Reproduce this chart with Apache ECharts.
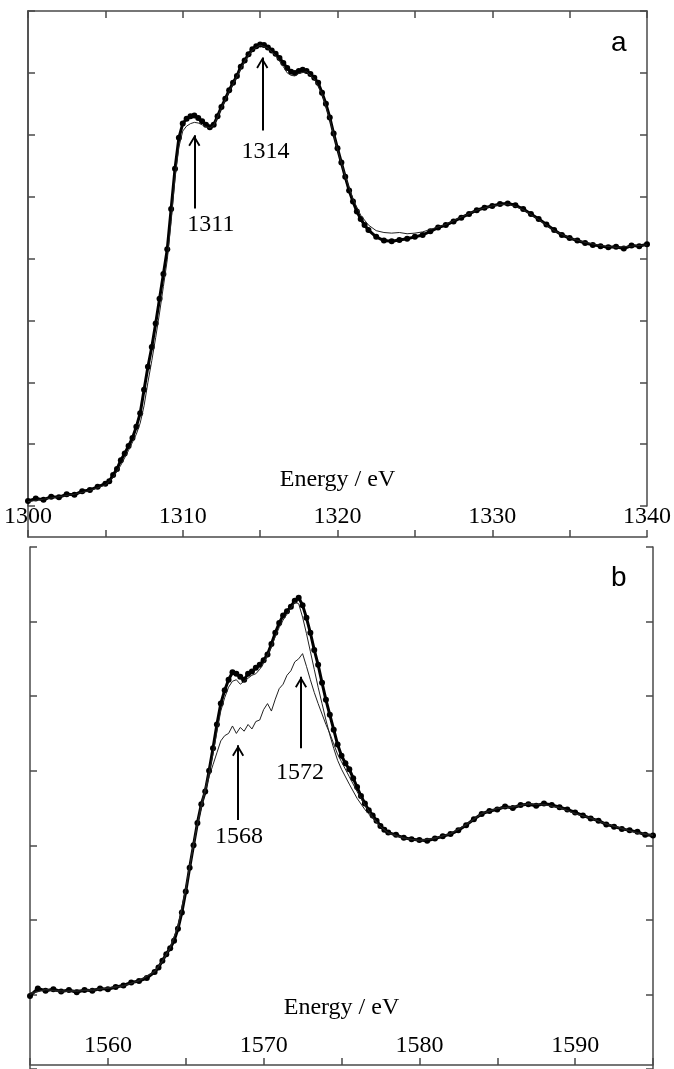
<!DOCTYPE html>
<html>
<head>
<meta charset="utf-8">
<script src="https://cdn.jsdelivr.net/npm/echarts@6/dist/echarts.min.js"></script>
<style>
html,body{margin:0;padding:0;background:#fff;}
#chart{width:674px;height:1069px;}
</style>
</head>
<body>
<div id="chart"></div>
<script>
// ---------- Panel a (Energy / eV, 1300–1340) ----------
const ticksLabelsA = [1300, 1310, 1320, 1330, 1340];
const dotsA = [[1300,0.08],[1300.5,0.12],[1301,0.10],[1301.5,0.15],[1302,0.14],[1302.5,0.19],[1303,0.18],[1303.5,0.24],[1304,0.26],[1304.5,0.31],[1305,0.36],[1305.25,0.40],[1305.5,0.50],[1305.75,0.60],[1306,0.74],[1306.25,0.85],[1306.5,0.97],[1306.75,1.10],[1307,1.28],[1307.25,1.50],[1307.5,1.88],[1307.75,2.25],[1308,2.57],[1308.25,2.95],[1308.5,3.35],[1308.75,3.75],[1309,4.15],[1309.25,4.80],[1309.5,5.45],[1309.75,5.95],[1310,6.18],[1310.25,6.26],[1310.5,6.30],[1310.75,6.31],[1311,6.27],[1311.25,6.22],[1311.5,6.16],[1311.75,6.12],[1312,6.16],[1312.25,6.30],[1312.5,6.45],[1312.75,6.58],[1313,6.72],[1313.25,6.84],[1313.5,6.95],[1313.75,7.10],[1314,7.20],[1314.25,7.30],[1314.5,7.38],[1314.75,7.43],[1315,7.46],[1315.25,7.45],[1315.5,7.41],[1315.75,7.36],[1316,7.31],[1316.25,7.24],[1316.5,7.16],[1316.75,7.08],[1317,7.02],[1317.25,7.00],[1317.5,7.03],[1317.75,7.05],[1318,7.03],[1318.25,6.98],[1318.5,6.92],[1318.75,6.84],[1319,6.68],[1319.25,6.50],[1319.5,6.28],[1319.75,6.02],[1320,5.78],[1320.25,5.55],[1320.5,5.32],[1320.75,5.10],[1321,4.92],[1321.25,4.76],[1321.5,4.64],[1321.75,4.54],[1322,4.46],[1322.5,4.35],[1323,4.29],[1323.5,4.28],[1324,4.30],[1324.5,4.32],[1325,4.35],[1325.5,4.38],[1326,4.44],[1326.5,4.50],[1327,4.54],[1327.5,4.60],[1328,4.66],[1328.5,4.72],[1329,4.78],[1329.5,4.82],[1330,4.85],[1330.5,4.88],[1331,4.89],[1331.5,4.86],[1332,4.80],[1332.5,4.72],[1333,4.64],[1333.5,4.55],[1334,4.46],[1334.5,4.38],[1335,4.33],[1335.5,4.29],[1336,4.25],[1336.5,4.22],[1337,4.20],[1337.5,4.18],[1338,4.19],[1338.5,4.16],[1339,4.21],[1339.5,4.20],[1340,4.23]];
const lineA = [[1300,0.07],[1301,0.11],[1302,0.15],[1303,0.19],[1304,0.25],[1305,0.34],[1305.5,0.46],[1306,0.66],[1306.5,0.90],[1307,1.16],[1307.25,1.34],[1307.5,1.62],[1307.75,2.00],[1308,2.35],[1308.25,2.72],[1308.5,3.12],[1308.75,3.55],[1309,3.98],[1309.25,4.60],[1309.5,5.30],[1309.75,5.80],[1310,6.06],[1310.25,6.14],[1310.5,6.18],[1310.75,6.20],[1311,6.19],[1311.25,6.16],[1311.5,6.13],[1311.75,6.11],[1312,6.15],[1312.5,6.43],[1313,6.70],[1313.5,6.94],[1314,7.19],[1314.5,7.37],[1315,7.45],[1315.5,7.40],[1316,7.28],[1316.5,7.10],[1316.75,7.00],[1317,6.96],[1317.25,6.95],[1317.5,6.99],[1318,7.02],[1318.5,6.90],[1319,6.66],[1319.5,6.25],[1320,5.76],[1320.5,5.33],[1321,4.96],[1321.5,4.70],[1322,4.54],[1322.5,4.45],[1323,4.42],[1323.5,4.41],[1324,4.42],[1324.5,4.40],[1325,4.41],[1325.5,4.43],[1326,4.47],[1326.5,4.51],[1327,4.55],[1328,4.67],[1329,4.78],[1330,4.85],[1330.5,4.87],[1331,4.88],[1331.5,4.84],[1332,4.79],[1333,4.63],[1334,4.45],[1335,4.33],[1336,4.26],[1337,4.21],[1338,4.18],[1339,4.20],[1340,4.22]];
// arrows: [energy, tail value, head value]
const arrowsA = [[1310.75, 4.81, 5.99], [1315.14, 6.07, 7.25]];
// arrow texts: [energy, value, text]
const notesA = [[1311.82, 4.54, '1311'], [1315.34, 5.72, '1314']];

// ---------- Panel b (Energy / eV, 1555–1595) ----------
const ticksLabelsB = [1560, 1570, 1580, 1590];
const dotsB = [[1555,0.98],[1555.5,1.08],[1556,1.05],[1556.5,1.07],[1557,1.04],[1557.5,1.06],[1558,1.03],[1558.5,1.06],[1559,1.05],[1559.5,1.08],[1560,1.07],[1560.5,1.10],[1561,1.12],[1561.5,1.16],[1562,1.18],[1562.5,1.22],[1563,1.30],[1563.25,1.36],[1563.5,1.45],[1563.75,1.54],[1564,1.62],[1564.25,1.72],[1564.5,1.88],[1564.75,2.10],[1565,2.38],[1565.25,2.70],[1565.5,3.00],[1565.75,3.30],[1566,3.55],[1566.25,3.72],[1566.5,4.00],[1566.75,4.30],[1567,4.62],[1567.25,4.90],[1567.5,5.08],[1567.75,5.22],[1568,5.32],[1568.25,5.30],[1568.5,5.26],[1568.75,5.22],[1569,5.30],[1569.25,5.33],[1569.5,5.38],[1569.75,5.42],[1570,5.48],[1570.25,5.56],[1570.5,5.70],[1570.75,5.85],[1571,5.98],[1571.25,6.08],[1571.5,6.14],[1571.75,6.20],[1572,6.28],[1572.25,6.32],[1572.5,6.22],[1572.75,6.05],[1573,5.85],[1573.25,5.62],[1573.5,5.42],[1573.75,5.18],[1574,4.95],[1574.25,4.75],[1574.5,4.55],[1574.75,4.35],[1575,4.20],[1575.25,4.10],[1575.5,4.02],[1575.75,3.90],[1576,3.78],[1576.25,3.66],[1576.5,3.56],[1576.75,3.47],[1577,3.40],[1577.25,3.33],[1577.5,3.26],[1577.75,3.21],[1578,3.17],[1578.5,3.14],[1579,3.10],[1579.5,3.08],[1580,3.07],[1580.5,3.06],[1581,3.09],[1581.5,3.12],[1582,3.15],[1582.5,3.20],[1583,3.27],[1583.5,3.35],[1584,3.42],[1584.5,3.46],[1585,3.48],[1585.5,3.52],[1586,3.50],[1586.5,3.54],[1587,3.55],[1587.5,3.53],[1588,3.56],[1588.5,3.54],[1589,3.51],[1589.5,3.48],[1590,3.44],[1590.5,3.40],[1591,3.36],[1591.5,3.33],[1592,3.28],[1592.5,3.25],[1593,3.22],[1593.5,3.20],[1594,3.18],[1594.5,3.14],[1595,3.13]];
const lineB1 = [[1555,1.02],[1556,1.06],[1557,1.05],[1558,1.04],[1559,1.07],[1560,1.08],[1561,1.12],[1562,1.18],[1563,1.30],[1563.5,1.44],[1564,1.62],[1564.5,1.90],[1565,2.40],[1565.5,3.02],[1566,3.55],[1566.5,3.98],[1566.75,4.22],[1567,4.52],[1567.25,4.80],[1567.5,4.98],[1567.75,5.12],[1568,5.20],[1568.25,5.22],[1568.5,5.16],[1568.75,5.20],[1569,5.24],[1569.25,5.28],[1569.5,5.30],[1569.75,5.36],[1570,5.44],[1570.25,5.55],[1570.5,5.66],[1570.75,5.80],[1571,5.92],[1571.25,6.02],[1571.5,6.10],[1571.75,6.18],[1572,6.26],[1572.25,6.24],[1572.5,6.06],[1572.75,5.84],[1573,5.60],[1573.25,5.36],[1573.5,5.12],[1573.75,4.90],[1574,4.68],[1574.25,4.48],[1574.5,4.30],[1574.75,4.14],[1575,4.02],[1575.5,3.82],[1576,3.63],[1576.5,3.48],[1577,3.36],[1577.5,3.25],[1578,3.17],[1579,3.10],[1580,3.06],[1581,3.09],[1582,3.16],[1583,3.28],[1584,3.43],[1585,3.49],[1586,3.52],[1587,3.55],[1588,3.55],[1589,3.50],[1590,3.43],[1591,3.36],[1592,3.29],[1593,3.22],[1594,3.17],[1595,3.14]];
const lineB2 = [[1555,1.00],[1556,1.07],[1557,1.03],[1558,1.06],[1559,1.05],[1560,1.09],[1561,1.11],[1562,1.19],[1563,1.31],[1563.5,1.45],[1564,1.63],[1564.5,1.92],[1565,2.42],[1565.5,3.00],[1565.75,3.28],[1566,3.50],[1566.25,3.72],[1566.5,3.92],[1566.75,4.08],[1567,4.24],[1567.25,4.40],[1567.5,4.47],[1567.75,4.50],[1568,4.60],[1568.25,4.50],[1568.5,4.58],[1568.75,4.53],[1569,4.62],[1569.25,4.56],[1569.5,4.66],[1569.75,4.68],[1570,4.82],[1570.25,4.90],[1570.5,4.80],[1570.75,4.96],[1571,5.10],[1571.25,5.16],[1571.5,5.28],[1571.75,5.34],[1572,5.46],[1572.25,5.50],[1572.5,5.57],[1572.75,5.40],[1573,5.22],[1573.25,5.05],[1573.5,4.90],[1573.75,4.76],[1574,4.62],[1574.25,4.50],[1574.5,4.36],[1574.75,4.22],[1575,4.12],[1575.5,3.92],[1576,3.72],[1576.5,3.54],[1577,3.38],[1577.5,3.25],[1578,3.16],[1579,3.09],[1580,3.07],[1581,3.10],[1582,3.15],[1583,3.27],[1584,3.42],[1585,3.50],[1586,3.51],[1587,3.56],[1588,3.54],[1589,3.51],[1590,3.42],[1591,3.37],[1592,3.28],[1593,3.23],[1594,3.16],[1595,3.13]];
const arrowsB = [[1568.36, 3.34, 4.34], [1572.40, 4.30, 5.26]];
const notesB = [[1568.42, 3.12, '1568'], [1572.34, 3.98, '1572']];

const SERIF = 'Liberation Serif, Times New Roman, serif';
const SANS = 'Liberation Sans, Arial, sans-serif';
const AX = '#4a4a4a';

function baseAxisStyle() {
  return {
    axisLine: {show: true, onZero: false, lineStyle: {color: AX, width: 1.5}},
    axisTick: {show: true, inside: true, length: 7, lineStyle: {color: AX, width: 1.5}},
    splitLine: {show: false}
  };
}
function yAx(grid, pos, max) {
  return Object.assign({type: 'value', gridIndex: grid, position: pos, min: 0, max: max, interval: 1,
    axisLabel: {show: false}}, baseAxisStyle());
}
function xBottom(grid, min, max, labels, offset, margin, gap) {
  return Object.assign({type: 'value', gridIndex: grid, position: 'bottom', min: min, max: max, interval: 5, offset: offset,
    axisLabel: {show: true, inside: true, margin: margin, color: '#000', fontFamily: SERIF, fontSize: 24,
      showMinLabel: true, showMaxLabel: true,
      formatter: v => labels.indexOf(v) >= 0 ? String(v) : ''},
    name: 'Energy / eV', nameLocation: 'middle', nameGap: gap,
    nameTextStyle: {color: '#000', fontFamily: SERIF, fontSize: 24}}, baseAxisStyle());
}
// arrow shafts drawn as mark lines, arrowheads as open chevrons (line series with symbol none, using data coords)
function arrowMark(arrows) {
  return {
    silent: true, symbol: ['none', 'none'],
    lineStyle: {color: '#000', width: 2, type: 'solid', opacity: 1},
    label: {show: false}, emphasis: {disabled: true},
    data: arrows.map(a => [{coord: [a[0], a[1]]}, {coord: [a[0], a[2]]}])
  };
}
function headSeries(arrows, xi, yi) {
  return {type: 'scatter', xAxisIndex: xi, yAxisIndex: yi, silent: true, z: 6,
    symbol: 'path://M0,10 L6,0 L12,10 L10.4,11 L6,3.4 L1.6,11 Z',
    symbolSize: [12, 11], symbolOffset: [0, '50%'],
    itemStyle: {color: '#000', opacity: 1},
    data: arrows.map(a => [a[0], a[2]])};
}
function notesSeries(notes, xi, yi) {
  return {type: 'scatter', xAxisIndex: xi, yAxisIndex: yi, symbolSize: 0, silent: true,
    itemStyle: {color: '#000', opacity: 1},
    label: {show: true, position: 'inside', formatter: p => p.value[2], color: '#000', opacity: 1,
      fontFamily: SERIF, fontSize: 24, textBorderWidth: 0},
    labelLayout: {hideOverlap: false},
    data: notes, z: 5};
}
function dotSeries(data, xi, yi) {
  return {type: 'line', xAxisIndex: xi, yAxisIndex: yi, data: data, symbol: 'circle', symbolSize: 6,
    showSymbol: true, showAllSymbol: true, silent: true,
    lineStyle: {color: '#000', width: 3}, itemStyle: {color: '#000'}, z: 3};
}
function thinSeries(data, xi, yi, extra) {
  return Object.assign({type: 'line', xAxisIndex: xi, yAxisIndex: yi, data: data, showSymbol: false, silent: true,
    lineStyle: {color: '#222', width: 1}, z: 4}, extra || {});
}

const chart = echarts.init(document.getElementById('chart'), null, {renderer: 'canvas'});
chart.setOption({
  animation: false,
  backgroundColor: '#fff',
  title: [
    {text: 'a', left: 611, top: 29, padding: 0, textStyle: {fontFamily: SANS, fontSize: 28, fontWeight: 'normal', color: '#000'}},
    {text: 'b', left: 611, top: 564, padding: 0, textStyle: {fontFamily: SANS, fontSize: 28, fontWeight: 'normal', color: '#000'}}
  ],
  grid: [
    {left: 28, top: 11, width: 626, height: 495},
    {left: 30, top: 547, width: 623, height: 526},
    {left: 28, top: 11, width: 626, height: 526}
  ],
  xAxis: [
    xBottom(0, 1300, 1340, ticksLabelsA, 31, 8, -69),
    Object.assign({type: 'value', gridIndex: 0, position: 'top', min: 1300, max: 1340, interval: 5,
      axisLabel: {show: false}}, baseAxisStyle()),
    xBottom(1, 1555, 1595, ticksLabelsB, -4, 7, -69),
    {type: 'value', gridIndex: 2, min: 0, max: 1, show: false}
  ],
  yAxis: [
    yAx(0, 'left', 8),
    yAx(0, 'right', 8),
    yAx(1, 'left', 7),
    yAx(1, 'right', 7),
    {type: 'value', gridIndex: 2, position: 'right', min: 0, max: 1,
      axisLine: {show: true, lineStyle: {color: AX, width: 1.5}}, axisTick: {show: false},
      axisLabel: {show: false}, splitLine: {show: false}}
  ],
  series: [
    dotSeries(dotsA, 0, 0),
    thinSeries(lineA, 0, 0, {markLine: arrowMark(arrowsA)}),
    headSeries(arrowsA, 0, 0),
    notesSeries(notesA, 0, 0),
    dotSeries(dotsB, 2, 2),
    thinSeries(lineB1, 2, 2),
    thinSeries(lineB2, 2, 2, {markLine: arrowMark(arrowsB)}),
    headSeries(arrowsB, 2, 2),
    notesSeries(notesB, 2, 2)
  ]
});
</script>
</body>
</html>
